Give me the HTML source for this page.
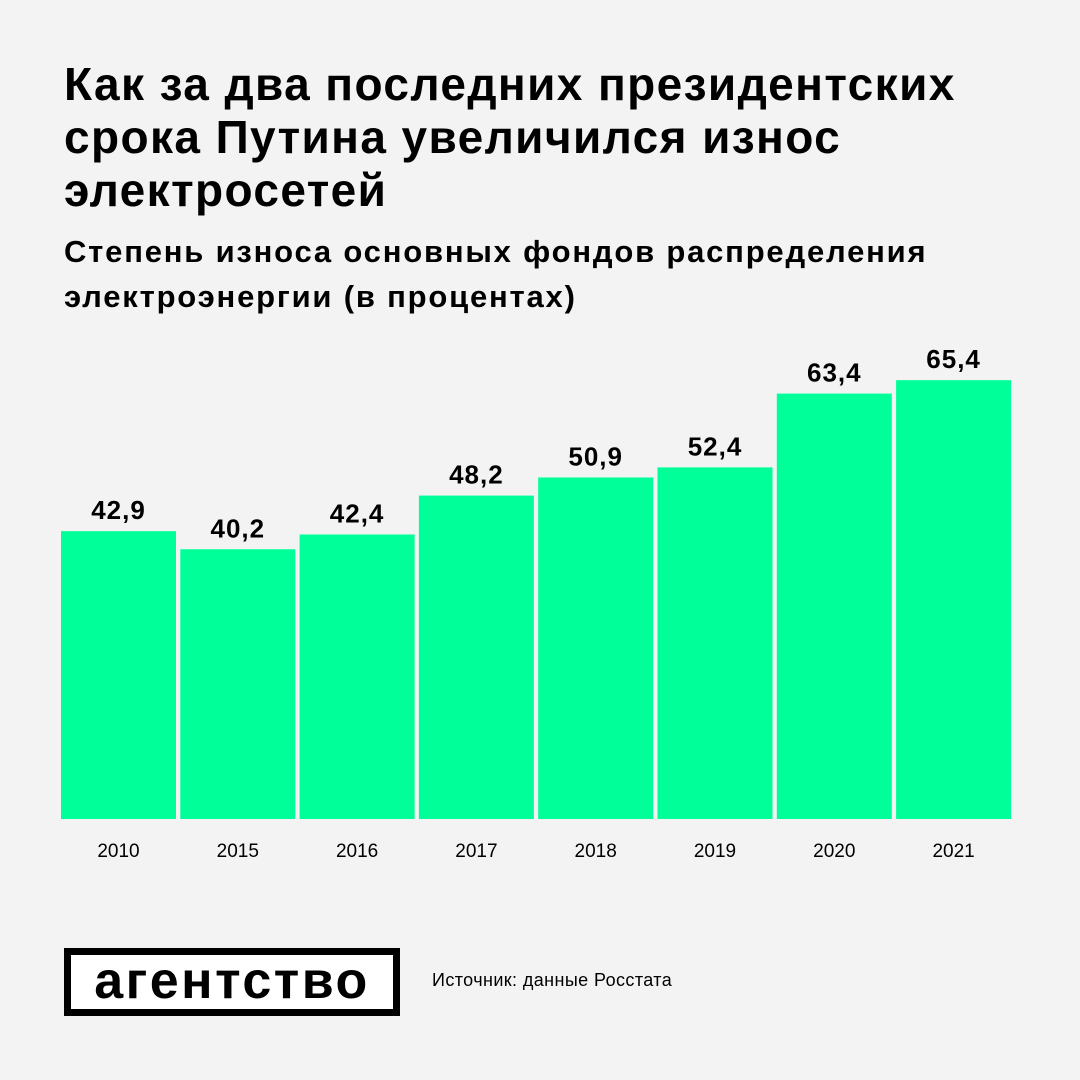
<!DOCTYPE html>
<html><head><meta charset="utf-8">
<style>
body{margin:0;width:1080px;height:1080px;background:#f3f3f3;font-family:"Liberation Sans","DejaVu Sans",sans-serif;color:#000;position:relative;overflow:hidden}
#title{position:absolute;left:64px;top:58px;font-size:46px;font-weight:bold;line-height:53px;letter-spacing:1.4px;white-space:nowrap}
#sub{position:absolute;left:64px;top:229px;font-size:31px;font-weight:bold;line-height:45px;letter-spacing:1.8px;white-space:nowrap}
#logo{position:absolute;left:64px;top:948px;width:322px;height:54px;border:7px solid #000;background:#fff;font-size:52px;font-weight:bold;line-height:52px;text-align:center;letter-spacing:2.5px}
#src{position:absolute;left:432px;top:970px;font-size:18px;letter-spacing:0.4px}
svg{position:absolute;left:0;top:0}
</style></head><body>
<div id="title">Как за два последних президентских<br>срока Путина увеличился износ<br>электросетей</div>
<div id="sub">Степень износа основных фондов распределения<br>электроэнергии (в процентах)</div>
<svg id="chart" width="1080" height="1080"></svg>
<div id="logo">агентство</div>
<div id="src">Источник: данные Росстата</div>
<script>
const categories=["2010","2015","2016","2017","2018","2019","2020","2021"];
const values=[42.9,40.2,42.4,48.2,50.9,52.4,63.4,65.4];
const labels=["42,9","40,2","42,4","48,2","50,9","52,4","63,4","65,4"];
const svg=document.getElementById('chart');
const NS='http://www.w3.org/2000/svg';
const x0=61,step=119.3,bw=115,base=819,k=6.71;
const xs=i=>x0+i*step;
const ys=v=>base-v*k;
categories.forEach((c,i)=>{
  const r=document.createElementNS(NS,'rect');
  r.setAttribute('x',xs(i));r.setAttribute('y',ys(values[i]));
  r.setAttribute('width',bw);r.setAttribute('height',base-ys(values[i]));
  r.setAttribute('fill','#00ff99');
  
  
  svg.appendChild(r);
  const t=document.createElementNS(NS,'text');
  t.setAttribute('x',xs(i)+bw/2);t.setAttribute('y',ys(values[i])-12);
  t.setAttribute('text-anchor','middle');t.setAttribute('font-size','26');t.setAttribute('font-weight','bold');
  t.setAttribute('letter-spacing','1');
  t.setAttribute('font-family','Liberation Sans, sans-serif');
  t.textContent=labels[i];
  
  
  svg.appendChild(t);
  const a=document.createElementNS(NS,'text');
  a.setAttribute('x',xs(i)+bw/2);a.setAttribute('y',857);
  a.setAttribute('text-anchor','middle');a.setAttribute('font-size','19');
  a.setAttribute('font-family','Liberation Sans, sans-serif');
  a.textContent=c;
  
  
  svg.appendChild(a);
});
</script>
</body></html>
